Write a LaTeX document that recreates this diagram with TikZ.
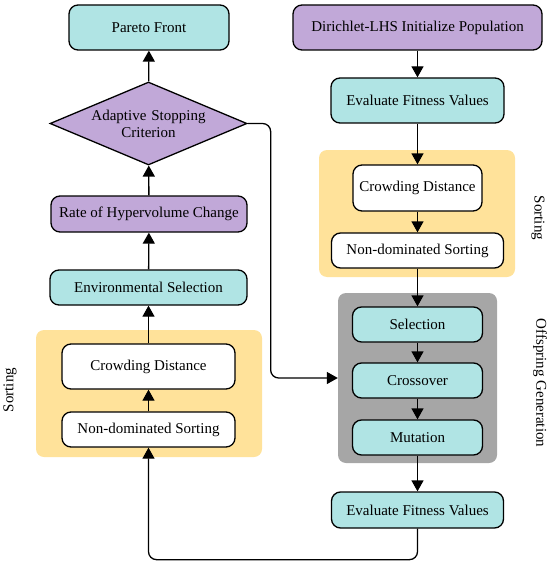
\documentclass[tikz,border=0pt]{standalone}
\usepackage{fontspec}
\setmainfont{Liberation Serif}
\usetikzlibrary{shapes.geometric,arrows.meta}
\definecolor{cyanbox}{RGB}{176,228,228}
\definecolor{purplebox}{RGB}{193,168,216}
\definecolor{sortbg}{RGB}{255,226,154}
\definecolor{offsbg}{RGB}{166,166,166}

\begin{document}
\begin{tikzpicture}[x=1pt, y=-1pt,
    font=\fontsize{15}{17}\selectfont,
    box/.style={draw=black, line width=1.3pt, rounded corners=9pt, inner sep=2pt, align=center},
    proc/.style={box, fill=cyanbox},
    initbox/.style={box, fill=purplebox},
    subbox/.style={box, fill=white},
    decision/.style={diamond, draw=black, line width=1.3pt, fill=purplebox, aspect=2.37,
      inner sep=0pt, text width=118pt, align=center},
    panel/.style={rounded corners=8pt, inner sep=0pt},
    arr/.style={line width=1.3pt, -{Triangle[width=12pt,length=11pt]}}]
  \useasboundingbox (0,0) rectangle (550,567);
  % ---------------- background panels ----------------
  \node[panel, fill=sortbg, minimum width=226pt, minimum height=127pt] (sortL) at (149,393.5) {};
  \node[panel, fill=sortbg, minimum width=196pt, minimum height=127pt] (sortR) at (417,213.5) {};
  \node[panel, fill=offsbg, minimum width=159pt, minimum height=170pt] (offs) at (417.5,378) {};
  % ---------------- left column ----------------
  \node[proc, minimum width=160pt, minimum height=45pt] (pareto) at (149,27.5) {Pareto Front};
  \node[decision, minimum width=197pt, minimum height=83pt] (stop) at (148.5,123.5)
    {Adaptive Stopping\\Criterion};
  \node[initbox, minimum width=196pt, minimum height=36pt] (hvrate) at (149,214) {Rate of Hypervolume Change};
  \node[proc, minimum width=197pt, minimum height=35pt] (envsel) at (148.5,287.5) {Environmental Selection};
  \node[subbox, minimum width=173pt, minimum height=45pt] (crowdL) at (148.5,366.5) {Crowding Distance};
  \node[subbox, minimum width=173pt, minimum height=35pt] (ndsL) at (148.5,429.5) {Non-dominated Sorting};
  % ---------------- right column ----------------
  \node[initbox, minimum width=249pt, minimum height=45pt] (init) at (417.5,27.5) {Dirichlet-LHS Initialize Population};
  \node[proc, minimum width=173pt, minimum height=45pt] (evalA) at (417.5,100.5) {Evaluate Fitness Values};
  \node[subbox, minimum width=129pt, minimum height=46pt] (crowdR) at (417.5,188) {Crowding Distance};
  \node[subbox, minimum width=172pt, minimum height=35pt] (ndsR) at (417.5,250.5) {Non-dominated Sorting};
  \node[proc, minimum width=130pt, minimum height=35pt] (sel) at (417.5,324.5) {Selection};
  \node[proc, minimum width=130pt, minimum height=35pt] (cross) at (417.5,380.5) {Crossover};
  \node[proc, minimum width=130pt, minimum height=35pt] (mut) at (417.5,437.5) {Mutation};
  \node[proc, minimum width=172pt, minimum height=36pt] (evalB) at (417.5,510) {Evaluate Fitness Values};
  % ---------------- side labels ----------------
  \node[rotate=90] (labL) at (10,390) {Sorting};
  \node[rotate=-90] (labR) at (538,218) {Sorting};
  \node[rotate=-90] (labO) at (540,383) {Offspring Generation};
  % ---------------- connectors ----------------
  \draw[arr] (init) -- (evalA);
  \draw[arr] (evalA) -- (crowdR);
  \draw[arr] (crowdR) -- (ndsR);
  \draw[arr] (ndsR) -- (sel);
  \draw[arr] (sel) -- (cross);
  \draw[arr] (cross) -- (mut);
  \draw[arr] (mut) -- (evalB);
  \draw[arr, rounded corners=8pt] (evalB.south) -- ++(0,31) -| (ndsL.south);
  \draw[arr] (ndsL) -- (crowdL);
  \draw[arr] (crowdL) -- (envsel);
  \draw[arr] (envsel) -- (hvrate);
  \draw[arr] (hvrate) -- (stop);
  \draw[arr] (stop) -- (pareto);
  \draw[arr, rounded corners=8pt] (stop.east) -- ++(23,0) |- (offs.west);
\end{tikzpicture}
\end{document}
